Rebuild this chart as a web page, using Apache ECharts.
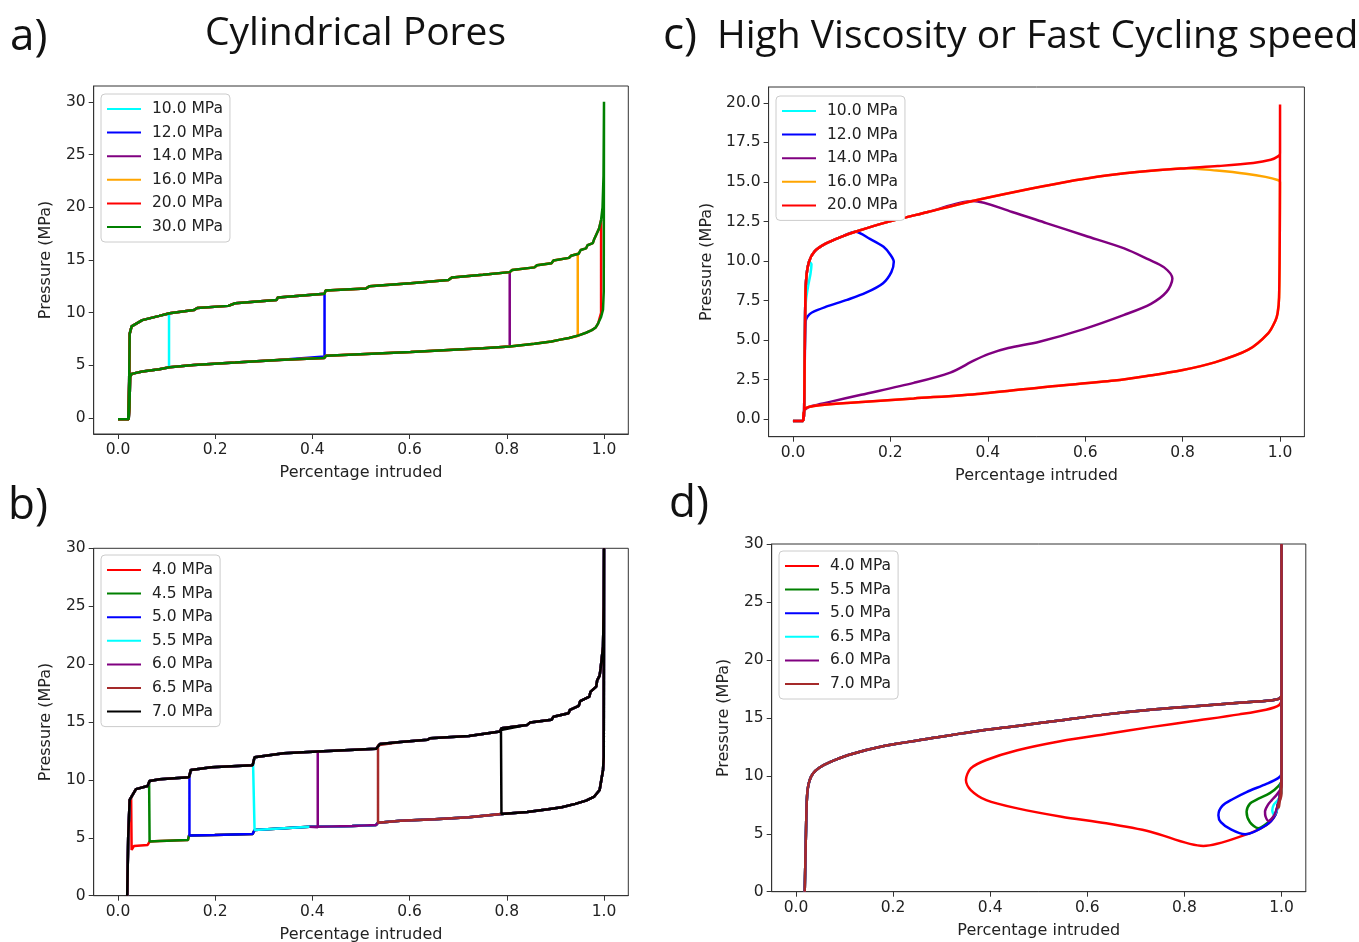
<!DOCTYPE html>
<html>
<head>
<meta charset="utf-8">
<script src="https://cdn.jsdelivr.net/npm/echarts@6/dist/echarts.min.js"></script>
<style>
html, body { margin: 0; padding: 0; background: #fff; }
#chart { width: 1359px; height: 942px; }
</style>
</head>
<body>
<div id="chart"></div>
<script>
// tick labels
const xTicks = [0, 0.2, 0.4, 0.6, 0.8, 1.0];
const yTicks30 = [0, 5, 10, 15, 20, 25, 30];
const yTicks20 = [0, 2.5, 5, 7.5, 10, 12.5, 15, 17.5, 20];

// legends / colours
const namesA = ["10.0 MPa", "12.0 MPa", "14.0 MPa", "16.0 MPa", "20.0 MPa", "30.0 MPa"];
const colorsA = ["#00ffff", "#0000ff", "#800080", "#ffa500", "#ff0000", "#008000"];
const namesB = ["4.0 MPa", "4.5 MPa", "5.0 MPa", "5.5 MPa", "6.0 MPa", "6.5 MPa", "7.0 MPa"];
const colorsB = ["#ff0000", "#008000", "#0000ff", "#00ffff", "#800080", "#a52a2a", "#000000"];
const namesC = ["10.0 MPa", "12.0 MPa", "14.0 MPa", "16.0 MPa", "20.0 MPa"];
const colorsC = ["#00ffff", "#0000ff", "#800080", "#ffa500", "#ff0000"];
// trailing space keeps d) names apart from b) names (colours differ)
const namesD = ["4.0 MPa ", "5.5 MPa ", "5.0 MPa ", "6.5 MPa ", "6.0 MPa ", "7.0 MPa "];
const colorsD = ["#ff0000", "#008000", "#0000ff", "#00ffff", "#800080", "#a52a2a"];

// ---- a) cylindrical pores: intrusion branch, extrusion branch, turning points
const aUpper = [[0, -0.1], [0.021, -0.1], [0.023, 3.5], [0.024, 8.0], [0.028, 8.7], [0.05, 9.3], [0.085, 9.7],
  [0.106, 9.95], [0.156, 10.25], [0.163, 10.45], [0.227, 10.65], [0.241, 10.9], [0.326, 11.2], [0.329, 11.45],
  [0.425, 11.8], [0.427, 12.1], [0.51, 12.3], [0.517, 12.5], [0.602, 12.8], [0.68, 13.1], [0.687, 13.35],
  [0.751, 13.6], [0.806, 13.85], [0.811, 14.05], [0.857, 14.3], [0.862, 14.5], [0.892, 14.7], [0.896, 14.95],
  [0.928, 15.2], [0.932, 15.4], [0.948, 15.6], [0.952, 15.95], [0.963, 16.1], [0.966, 16.4], [0.977, 16.6],
  [0.98, 17.0], [0.984, 17.4], [0.99, 18.0], [0.994, 18.8], [0.997, 20.0], [0.999, 23], [1.0, 30]];
const aLower = [[0.9995, 12.0], [0.998, 10.3], [0.994, 9.6], [0.988, 9.0], [0.983, 8.6], [0.975, 8.35],
  [0.963, 8.1], [0.948, 7.85], [0.928, 7.6], [0.91, 7.45], [0.892, 7.28], [0.857, 7.05], [0.806, 6.8],
  [0.751, 6.63], [0.68, 6.47], [0.602, 6.28], [0.51, 6.09], [0.428, 5.92], [0.424, 5.7], [0.33, 5.52],
  [0.326, 5.45], [0.241, 5.27], [0.156, 5.05], [0.106, 4.82], [0.085, 4.65], [0.05, 4.42], [0.028, 4.2],
  [0.025, 3.9], [0.0235, 1.0], [0.022, -0.1], [0, -0.1]];
// [x, top pressure, bottom pressure]
const aTurns = [[0.105, 9.9, 4.8], [0.425, 11.8, 5.85], [0.806, 13.85, 6.8], [0.946, 15.6, 7.8],
  [0.994, 18.8, 10.0], [1.0, 30, 30]];

// ---- b) cylindrical pores, partial release
const bUpper = [[0.019, 0], [0.021, 5], [0.024, 8.28], [0.03, 8.7], [0.037, 9.2], [0.061, 9.48], [0.065, 9.91],
  [0.086, 10.06], [0.146, 10.23], [0.15, 10.86], [0.192, 11.1], [0.277, 11.27], [0.281, 11.96], [0.341, 12.3],
  [0.411, 12.45], [0.531, 12.68], [0.539, 13.1], [0.581, 13.28], [0.637, 13.46], [0.642, 13.6], [0.722, 13.8],
  [0.786, 14.17], [0.789, 14.46], [0.842, 14.75], [0.848, 14.95], [0.892, 15.2], [0.896, 15.45], [0.927, 15.76],
  [0.93, 16.05], [0.948, 16.4], [0.951, 16.8], [0.97, 17.2], [0.972, 17.6], [0.984, 18.06], [0.986, 18.6],
  [0.991, 19.0], [0.993, 19.6], [0.998, 21.5], [0.9995, 25], [1.0, 30]];
const bLower = [[0.9995, 12], [0.998, 10.86], [0.991, 9.13], [0.98, 8.56], [0.963, 8.21], [0.941, 7.93],
  [0.913, 7.64], [0.885, 7.47], [0.842, 7.23], [0.789, 7.06], [0.786, 6.92], [0.722, 6.78], [0.652, 6.6],
  [0.581, 6.48], [0.535, 6.31], [0.531, 6.11], [0.482, 6.02], [0.411, 5.96], [0.394, 5.96], [0.39, 5.82],
  [0.281, 5.68], [0.277, 5.33], [0.199, 5.24], [0.146, 5.19], [0.144, 4.81], [0.086, 4.73], [0.065, 4.67],
  [0.061, 4.38], [0.033, 4.3], [0.028, 3.95]];
// [x lowest, pressure, x re-intrusion, pressure on intrusion branch]
const bTurns = [[0.027, 3.95, 0.027, 8.5], [0.064, 4.67, 0.064, 9.9], [0.147, 5.19, 0.147, 10.25],
  [0.278, 5.68, 0.278, 11.27], [0.392, 5.9, 0.411, 12.45], [0.535, 6.31, 0.535, 13.0], [0.788, 7.06, 0.788, 14.3]];

// ---- c) high viscosity
const cUp = [[0, -0.1], [0.021, -0.1], [0.023, 0.6], [0.025, 6.7], [0.027, 8.8], [0.033, 9.96], [0.044, 10.6],
  [0.067, 11.1], [0.103, 11.58], [0.128, 11.85], [0.186, 12.4], [0.277, 13.1], [0.369, 13.8], [0.46, 14.4],
  [0.552, 14.95], [0.643, 15.4], [0.735, 15.7], [0.808, 15.87], [0.872, 16.0], [0.945, 16.2], [0.981, 16.4],
  [0.995, 16.6], [1.0, 16.8], [1.0, 19.9]];
const cRedDown = [[0.9995, 12], [0.998, 7.7], [0.995, 6.7], [0.99, 6.2], [0.976, 5.45], [0.935, 4.4],
  [0.866, 3.6], [0.798, 3.1], [0.729, 2.75], [0.66, 2.45], [0.523, 2.06], [0.386, 1.62], [0.248, 1.32],
  [0.111, 1.03], [0.043, 0.84], [0.026, 0.7], [0.022, 0.4], [0.021, -0.1]];
const cCyanBack = [[0.038, 9.8], [0.036, 9.2], [0.031, 8.4], [0.027, 7.6], [0.025, 6.7], [0.024, 3],
  [0.023, 0.6], [0.021, -0.1]];
const cBlueBack = [[0.158, 11.4], [0.186, 10.9], [0.2, 10.4], [0.207, 9.95], [0.202, 9.3], [0.185, 8.6],
  [0.15, 8.0], [0.111, 7.55], [0.067, 7.1], [0.039, 6.75], [0.03, 6.5], [0.026, 6.2], [0.024, 3],
  [0.023, 0.6], [0.021, -0.1]];
const cPurpleBack = [[0.45, 13.1], [0.52, 12.4], [0.6, 11.6], [0.68, 10.8], [0.73, 10.1], [0.762, 9.6],
  [0.779, 8.9], [0.767, 8.05], [0.735, 7.3], [0.68, 6.6], [0.597, 5.7], [0.506, 4.9], [0.442, 4.5],
  [0.401, 4.12], [0.372, 3.72], [0.323, 2.95], [0.248, 2.3], [0.14, 1.55], [0.076, 1.1], [0.039, 0.84],
  [0.026, 0.65], [0.022, 0.4], [0.021, -0.1]];
const cOrangeBack = [[0.87, 15.72], [0.93, 15.52], [0.97, 15.32], [0.995, 15.12], [1.0, 15.0]];
// x where each cycle leaves the rising curve
const cTurnX = [0.033, 0.128, 0.369, 0.808, 1.0];

// ---- d) viscous, partial release
const dUp = [[0.018, 0], [0.02, 4], [0.022, 7.5], [0.024, 8.8], [0.028, 9.6], [0.035, 10.2], [0.048, 10.7],
  [0.071, 11.2], [0.108, 11.8], [0.181, 12.57], [0.273, 13.2], [0.364, 13.8], [0.456, 14.3], [0.547, 14.8],
  [0.639, 15.3], [0.73, 15.7], [0.822, 16.0], [0.913, 16.3], [0.977, 16.5], [0.995, 16.65], [1.0, 17], [1.0, 30]];
const dRedLoop = [[1.0, 10], [0.997, 8.5], [0.993, 7.6], [0.987, 6.6], [0.969, 5.76], [0.925, 4.9],
  [0.839, 3.95], [0.73, 5.18], [0.639, 5.9], [0.547, 6.47], [0.456, 7.19], [0.392, 7.9], [0.36, 8.77],
  [0.35, 9.63], [0.36, 10.64], [0.392, 11.36], [0.456, 12.2], [0.547, 13.0], [0.639, 13.6], [0.73, 14.2],
  [0.822, 14.75], [0.913, 15.3], [0.968, 15.7], [0.995, 16.1], [1.0, 16.6], [1.0, 30]];
const dGreenLoop = [[1.0, 10], [0.997, 8.5], [0.993, 7.6], [0.985, 6.5], [0.97, 5.9], [0.952, 5.48],
  [0.935, 6.0], [0.928, 6.9], [0.935, 7.6], [0.948, 7.93], [0.976, 8.5], [0.993, 9.08], [1.0, 9.6], [1.0, 30]];
const dBlueLoop = [[1.0, 10], [0.997, 8.5], [0.993, 7.6], [0.987, 6.6], [0.969, 5.76], [0.925, 4.95],
  [0.895, 5.4], [0.875, 6.0], [0.87, 6.6], [0.878, 7.4], [0.9, 8.0], [0.928, 8.6], [0.969, 9.3], [0.993, 9.8],
  [1.0, 10.2], [1.0, 30]];
const dCyanLoop = [[1.0, 10], [0.997, 8.5], [0.993, 7.4], [0.985, 6.6], [0.981, 7.0], [0.984, 7.5],
  [0.993, 7.93], [1.0, 8.6], [1.0, 30]];
const dPurpleLoop = [[1.0, 10], [0.997, 8.5], [0.993, 7.6], [0.985, 6.6], [0.973, 6.1], [0.967, 6.5],
  [0.966, 6.92], [0.972, 7.5], [0.98, 7.9], [0.99, 8.36], [1.0, 9.1], [1.0, 30]];
const dBrownLoop = [[1.0, 10], [0.998, 8.4], [0.995, 7.4], [0.993, 7.2], [0.994, 7.6], [0.998, 8.0],
  [1.0, 8.5], [1.0, 30]];
const dLoops = [dRedLoop, dGreenLoop, dBlueLoop, dCyanLoop, dPurpleLoop, dBrownLoop];

// build cycle paths from the branches
const aData = aTurns.map((t) =>
  aUpper.filter((p) => p[0] < t[0]).concat([[t[0], t[1]], [t[0], t[2]]], aLower.filter((p) => p[0] < t[0]))
);
const bData = bTurns.map((t) =>
  bUpper.concat(
    bLower.filter((p) => p[0] > t[0]),
    [[t[0], t[1]], [t[2], t[1]], [t[2], t[3]]],
    bUpper.filter((p) => p[0] > t[2])
  )
);
const cBacks = [cCyanBack, cBlueBack, cPurpleBack, cOrangeBack.concat(cRedDown.filter((p) => p[1] < 15)), cRedDown];
const cData = cTurnX.map((x, i) =>
  (i === 4 ? cUp : cUp.filter((p) => p[0] <= x)).concat(cBacks[i])
);
const dData = dLoops.map((l) => dUp.concat(l));

const FONT = "DejaVu Sans";
const grids = [
  { left: 93.7, top: 86, width: 534.6, height: 348 },
  { left: 768.6, top: 87, width: 535.8, height: 349.7 },
  { left: 93.7, top: 548.3, width: 534.6, height: 347.4 },
  { left: 771.7, top: 544, width: 534.1, height: 347.7 },
].map((g) => Object.assign(g, {
  show: true, borderColor: "#333", borderWidth: 1, backgroundColor: "#fff",
  containLabel: false, outerBoundsMode: "none",
}));

const xAxisFor = (i) => ({
  type: "value", gridIndex: i, min: -0.05, max: 1.05,
  name: "Percentage intruded", nameLocation: "middle", nameGap: 31,
  nameTextStyle: { fontSize: 16, fontFamily: FONT, color: "#222" },
  splitLine: { show: false },
  axisLine: { show: true, onZero: false, lineStyle: { color: "#333" } },
  axisTick: { show: true, length: 5, customValues: xTicks, lineStyle: { color: "#333" } },
  axisLabel: { customValues: xTicks, formatter: (v) => v.toFixed(1), fontSize: 15.5, fontFamily: FONT, color: "#222", margin: 8 },
});
const yAxisFor = (i, min, max, ticks, digits, gap) => ({
  type: "value", gridIndex: i, min, max,
  name: "Pressure (MPa)", nameLocation: "middle", nameGap: gap,
  nameTextStyle: { fontSize: 16, fontFamily: FONT, color: "#222" },
  splitLine: { show: false },
  axisLine: { show: true, onZero: false, lineStyle: { color: "#333" } },
  axisTick: { show: true, length: 5, customValues: ticks, lineStyle: { color: "#333" } },
  axisLabel: { customValues: ticks, formatter: (v) => v.toFixed(digits), fontSize: 15.5, fontFamily: FONT, color: "#222", margin: 8 },
});

const legendFor = (names, left, top) => ({
  data: names, orient: "vertical", left, top, icon: "rect",
  itemWidth: 34, itemHeight: 2, itemGap: 7.6, padding: [7, 7, 7, 6],
  backgroundColor: "#fff", borderColor: "#cccccc", borderWidth: 1, borderRadius: 4,
  selectedMode: false, formatter: (n) => n.trim(),
  textStyle: { fontSize: 15.5, fontFamily: FONT, color: "#222", lineHeight: 16, padding: [0, 0, 0, 6] },
});

const makeSeries = (names, colors, data, idx, smooth) =>
  names.map((n, i) => ({
    type: "line", name: n, xAxisIndex: idx, yAxisIndex: idx, data: data[i],
    symbol: "none", showSymbol: false, clip: true, animation: false, smooth,
    lineStyle: { width: 2.5, color: colors[i] }, itemStyle: { color: colors[i] },
  }));

const textEl = (text, x, y, size) => ({
  type: "text", x, y,
  style: { text, font: size + 'px "Open Sans"', fill: "#111", textVerticalAlign: "middle", verticalAlign: "middle" },
});

const option = {
  animation: false,
  grid: grids,
  xAxis: [0, 1, 2, 3].map(xAxisFor),
  yAxis: [
    yAxisFor(0, -1.5, 31.5, yTicks30, 0, 40),
    yAxisFor(1, -1.1, 21.0, yTicks20, 1, 54),
    yAxisFor(2, 0, 30, yTicks30, 0, 40),
    yAxisFor(3, 0, 30, yTicks30, 0, 40),
  ],
  legend: [
    legendFor(namesA, 101, 94),
    legendFor(namesC, 776, 96),
    legendFor(namesB, 101, 555),
    legendFor(namesD, 779, 551),
  ],
  graphic: [
    textEl("a)", 10, 37, 44),
    textEl("Cylindrical Pores", 205, 34, 39),
    textEl("c)", 663, 36, 44),
    textEl("High Viscosity or Fast Cycling speed", 717, 37, 39),
    textEl("b)", 8, 506, 44),
    textEl("d)", 669, 504, 44),
  ],
  series: [].concat(
    makeSeries(namesA, colorsA, aData, 0, false),
    makeSeries(namesC, colorsC, cData, 1, 0.3),
    makeSeries(namesB, colorsB, bData, 2, false),
    makeSeries(namesD, colorsD, dData, 3, 0.3)
  ),
};

echarts.init(document.getElementById("chart"), null, { renderer: "canvas" }).setOption(option);
</script>
</body>
</html>
